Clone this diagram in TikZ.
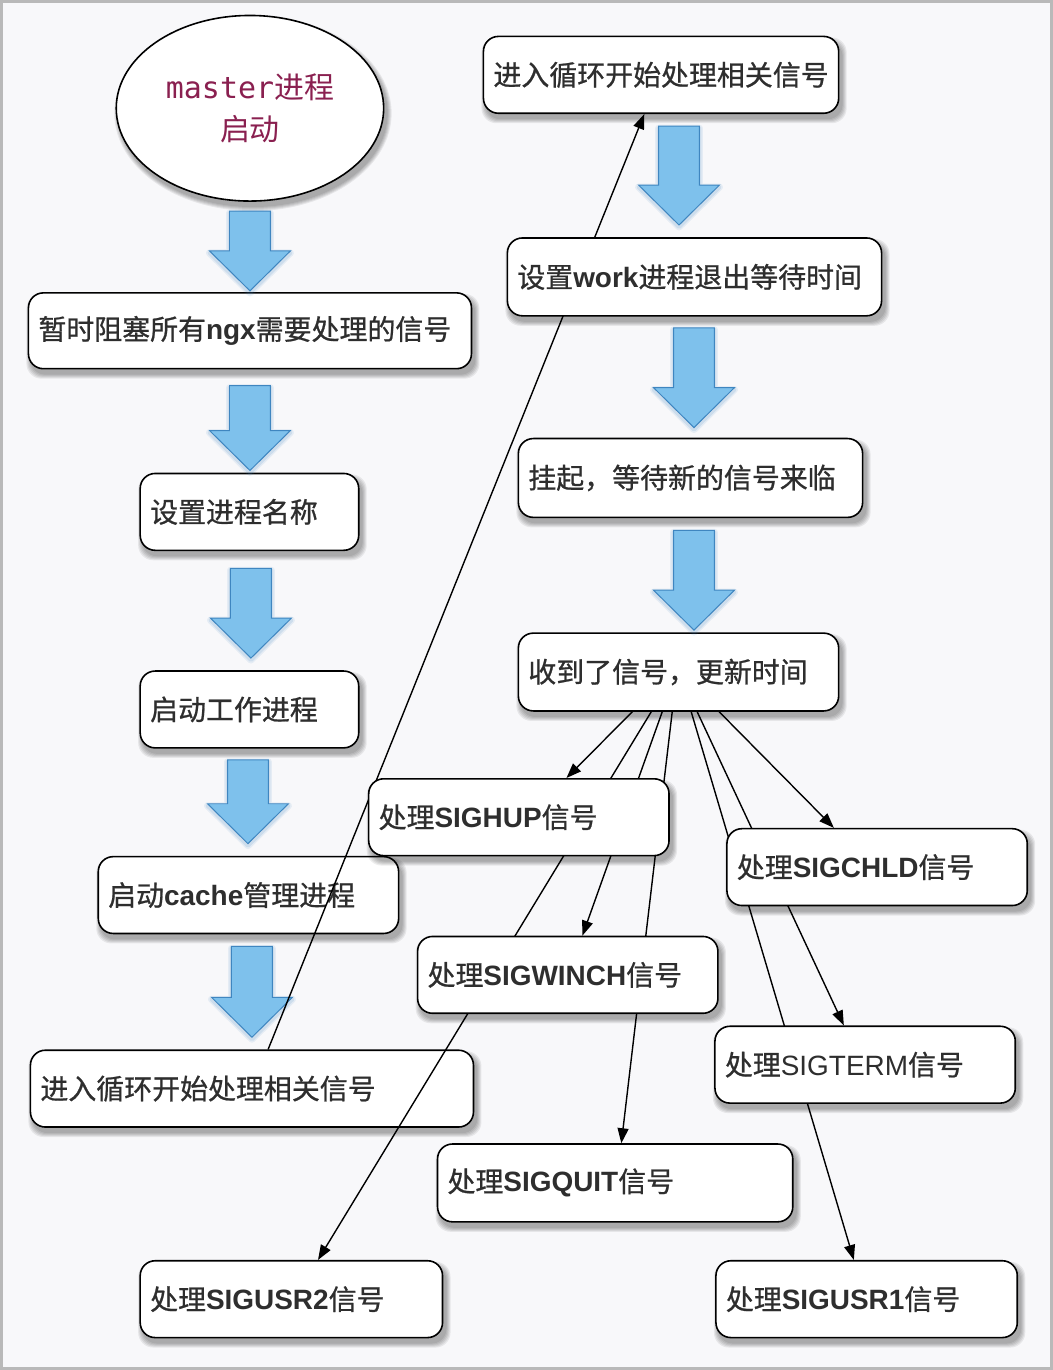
\documentclass[tikz,border=0pt]{standalone}
\usepackage{fontspec}
\setmainfont{Noto Sans CJK SC}[FakeBold=0.8]
\newfontfamily\zhthin{Noto Sans CJK SC}
\newfontfamily\lat{Liberation Sans}
\newfontfamily\mono{DejaVu Sans Mono}
\usetikzlibrary{arrows.meta,calc,shapes.geometric}
\definecolor{txt}{HTML}{2E2E2E}
\definecolor{mast}{HTML}{8A2050}
\definecolor{bfill}{HTML}{7EC1EC}
\definecolor{bline}{HTML}{3F86C0}
\definecolor{paper}{HTML}{F8F8FA}
\pgfdeclarelayer{bg}
\pgfdeclarelayer{front}
\pgfsetlayers{bg,main,front}
\tikzset{
  box/.style={draw=black, line width=1.6pt, fill=white, rounded corners=15pt,
    align=left, inner xsep=10pt, inner ysep=0pt,
    font=\fontsize{28}{32}\selectfont, text=txt},
  con/.style={line width=1.4pt, -{Triangle[length=15pt,width=11pt]}},
  blue/.style={fill=bfill, draw=bline, line width=1pt, line join=miter},
  shd/.style={fill=black, opacity=0.07},
}
\newcommand\bx[6]{%
  \pgfmathsetmacro\bw{#4-#2-20}\pgfmathsetmacro\bh{#5-#3}%
  \foreach \i in {1,...,5}{\fill[shd, rounded corners=15pt] ({#2+3-\i},{#3+6-\i}) rectangle ({#4+3+\i},{#5+5+\i});}
  \node[box, text width=\bw pt, minimum height=\bh pt] (#1) at ({(#2+#4)/2},{(#3+#5)/2}) {#6};}
\newcommand\barr[3]{%
  \foreach \w/\o in {7/0.10,4/0.14}{%
  \draw[line width=\w pt, draw=bline, opacity=\o, line join=round] ({#1-20.5},{#2+2}) -- ({#1+20.5},{#2+2}) -- ({#1+20.5},{#3-38}) -- ({#1+40.5},{#3-38})
    -- (#1,{#3+2}) -- ({#1-40.5},{#3-38}) -- ({#1-20.5},{#3-38}) -- cycle;}
  \draw[blue] ({#1-20.5},#2) -- ({#1+20.5},#2) -- ({#1+20.5},{#3-40}) -- ({#1+40.5},{#3-40})
    -- (#1,#3) -- ({#1-40.5},{#3-40}) -- ({#1-20.5},{#3-40}) -- cycle;}
\newcommand\B[1]{{\lat\bfseries #1}}
\begin{document}
\begin{tikzpicture}[x=1pt,y=-1pt]
\begin{pgfonlayer}{bg}
\path[fill=paper, draw=gray!55, line width=3pt] (0,0) rectangle (1052,1370);
\end{pgfonlayer}
\useasboundingbox (0,0) rectangle (1052,1370);

% left column
\foreach \i in {1,...,5}{\fill[shd] (252,112) ellipse ({134+\i} and {93+\i});}
\node[draw=black, line width=1.6pt, fill=white, ellipse, minimum width=268pt, minimum height=186pt,
  align=center, text=mast, font=\zhthin\fontsize{30}{42}\selectfont]
  (m) at (249,107) {{\mono master}进程\\启动};
\bx{b1}{27}{292}{471}{368}{暂时阻塞所有\B{ngx}需要处理的信号}
\bx{b2}{139}{473}{358}{550}{设置进程名称}
\bx{b3}{139}{671}{358}{748}{启动工作进程}
\bx{b4}{97}{857}{398}{934}{启动\B{cache}管理进程}
\bx{b5}{29}{1051}{473}{1128}{进入循环开始处理相关信号}

\begin{pgfonlayer}{front}
\bx{r1}{483}{35}{839}{112}{进入循环开始处理相关信号}
\bx{r2}{507}{237}{882}{315}{设置\B{work}进程退出等待时间}
\bx{r3}{518}{438}{863}{517}{挂起，等待新的信号来临}
\bx{r4}{518}{633}{839}{711}{收到了信号，更新时间}
\bx{hup}{368}{779}{669}{856}{处理\B{SIGHUP}信号}
\bx{chld}{727}{829}{1028}{906}{处理\B{SIGCHLD}信号}
\bx{winch}{417}{937}{718}{1014}{处理\B{SIGWINCH}信号}
\bx{term}{715}{1027}{1016}{1104}{处理{\lat SIGTERM}信号}
\bx{quit}{437}{1145}{793}{1223}{处理\B{SIGQUIT}信号}
\bx{usr2}{139}{1262}{442}{1339}{处理\B{SIGUSR2}信号}
\bx{usr1}{716}{1262}{1018}{1339}{处理\B{SIGUSR1}信号}
\barr{679}{125}{224}
\barr{694}{327}{427}
\barr{694}{530}{630}
\end{pgfonlayer}

\barr{249}{210}{290}
\barr{249}{385}{470}
\barr{250}{568}{658}
\barr{247}{760}{844}
\barr{251}{947}{1038}

% loop back line
\draw[con] ($(b5.north west)+(239,0)$) -- ($(r1.south west)+(162,0)$);

% signal fan-out
\draw[con] ($(r4.south west)+(115,0)$) -- ($(hup.north west)+(199,0)$);
\draw[con] ($(r4.south west)+(134,0)$) -- ($(usr2.north west)+(179,0)$);
\draw[con] ($(r4.south west)+(145,0)$) -- ($(winch.north west)+(166,0)$);
\draw[con] ($(r4.south west)+(155,0)$) -- ($(quit.north west)+(185,0)$);
\draw[con] ($(r4.south west)+(174,0)$) -- ($(usr1.north west)+(139,0)$);
\draw[con] ($(r4.south west)+(180,0)$) -- ($(term.north west)+(130,0)$);
\draw[con] ($(r4.south west)+(202,0)$) -- ($(chld.north west)+(108,0)$);
\end{tikzpicture}
\end{document}
